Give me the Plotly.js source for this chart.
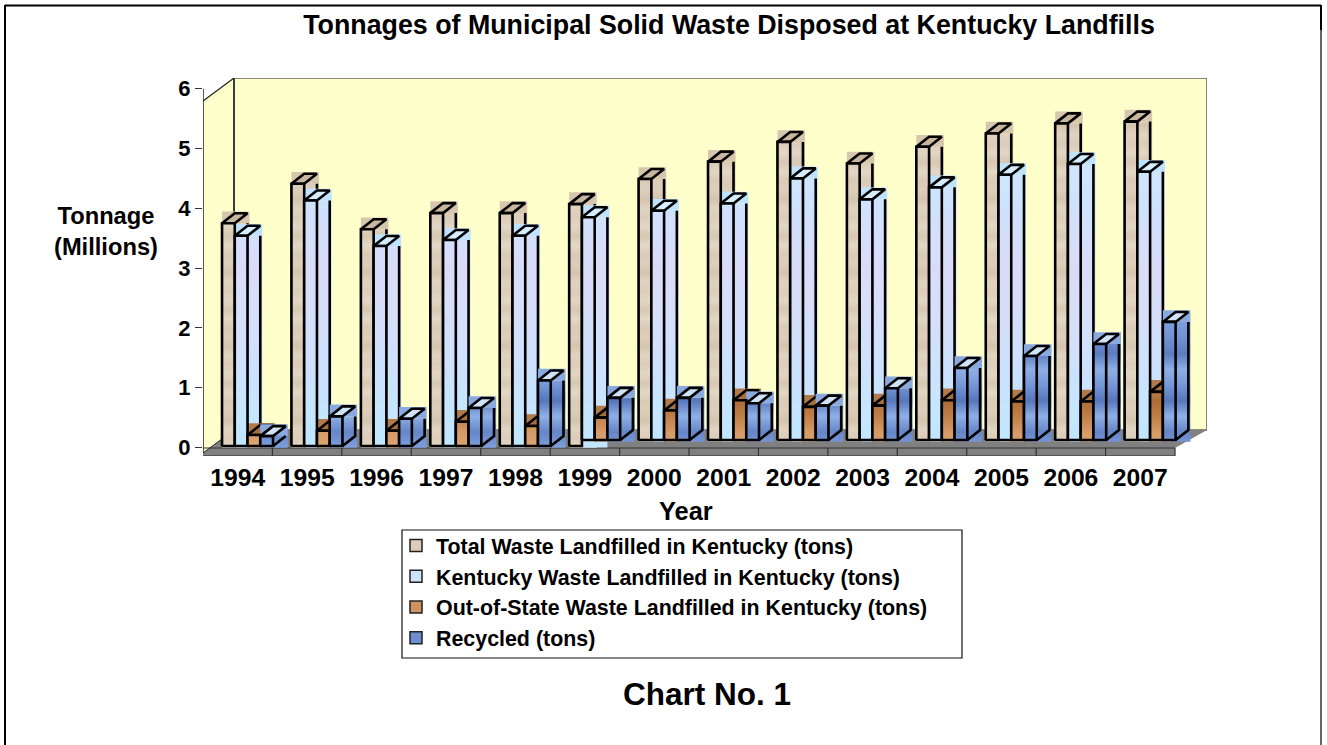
<!DOCTYPE html>
<html>
<head>
<meta charset="utf-8">
<title>Tonnages of Municipal Solid Waste Disposed at Kentucky Landfills</title>
<script src="https://cdn.plot.ly/plotly-3.0.1.min.js"></script>
<style>html,body{margin:0;padding:0;background:#fff}#chart{width:1327px;height:745px}</style>
</head>
<body>
<div id="chart"></div>
<script>
// Annual tonnages, in millions of tons
const years = [1994,1995,1996,1997,1998,1999,2000,2001,2002,2003,2004,2005,2006,2007];
const totalWaste = [3.75,4.41,3.65,3.92,3.92,4.07,4.49,4.78,5.11,4.75,5.03,5.25,5.42,5.45];
const kentuckyWaste = [3.54,4.13,3.37,3.47,3.54,3.85,3.96,4.08,4.50,4.15,4.35,4.56,4.74,4.61];
const outOfStateWaste = [0.21,0.28,0.28,0.43,0.36,0.50,0.62,0.79,0.68,0.70,0.79,0.77,0.77,0.93];
const recycled = [0.19,0.52,0.48,0.66,1.12,0.83,0.83,0.74,0.70,0.99,1.33,1.53,1.73,2.10];
const yTicks = [0,1,2,3,4,5,6];
const seriesNames = [
  'Total Waste Landfilled in Kentucky (tons)',
  'Kentucky Waste Landfilled in Kentucky (tons)',
  'Out-of-State Waste Landfilled in Kentucky (tons)',
  'Recycled (tons)'
];

// Plot-area geometry of the fake 3D box
const W = 1327, H = 745;
const L = 203, R = 1207, T = 78, B = 456;
const X_UNIT = 69.43, Y_UNIT = 59.8, Y_ZERO = 447.5;
const xRange = [0, (R - L) / X_UNIT];
const yRange = [(Y_ZERO - B) / Y_UNIT, (Y_ZERO - T) / Y_UNIT];
const xp = px => (px - L) / X_UNIT;
const yp = py => (Y_ZERO - py) / Y_UNIT;
const paperX = px => (px - L) / (R - L);
const paperY = py => 1 - (py - T) / (B - T);

// Column layout within one year's slot
const GROUP_OFFSET = 0.274, BAR_W = 0.1836;
const DEPTH_X = 0.1836, DEPTH_Y = 0.167;
const EDGE_X = 0.03, EDGE_Y = 0.03;
const LOW_BASE = 0.025, HIGH_BASE = 0.125;

// Repeating tone bands that give each column its mottled look
const bands = {
  total: ['#e2d6c4','#dbcdb9','#e0d3c0','#d4c5af','#ddcfbb','#d9cbb6','#e3d8c6','#d6c8b2'],
  ky: ['#c0e6ff','#c6e6ff','#cbe2ff','#d2e0fc','#d8def9','#d9dcf9','#d4dffb','#cde3ff','#d0e6ff','#d8edff','#d6ecff'],
  oos: ['#dca674','#d59a66','#c07f48','#ad6c38','#c88c56','#daa270','#e0ab7a','#d59a66'],
  rec: ['#7e9fdc','#6585c8','#8fb0e6','#5777bc','#7597d8','#8fafe4','#5c7dc0','#7092d2']
};
const gradientRepeats = { total: 5, ky: 1, oos: 3, rec: 3 };
const stripColor = { total: '#d7c6ae', ky: '#bfe3ff', oos: '#b07a4a', rec: '#8aa9df' };
const topColor = { total: '#c8b79e', ky: '#d4eeff', oos: '#a86f3e', rec: '#cfe3f8' };
const flatColor = { total: '#dccdb8', ky: '#cfe2fd', oos: '#cf9462', rec: '#6d8fd2' };
const keys = ['total', 'ky', 'oos', 'rec'];
const values = [totalWaste, kentuckyWaste, outOfStateWaste, recycled];
const raisedSince = [2000, 1999, 1999, 1999];

function gradientOf(key) {
  const list = [];
  for (let r = 0; r < gradientRepeats[key]; r++) list.push(...bands[key]);
  return {
    type: 'vertical', start: 0, stop: 6,
    colorscale: list.map((c, i) => [i / (list.length - 1), c])
  };
}
function pushPath(xs, ys, pts) {
  if (xs.length) { xs.push(null); ys.push(null); }
  pts.forEach(p => { xs.push(p[0]); ys.push(p[1]); });
}
const BLACK = '#000';
const decor = { hoverinfo: 'skip', showlegend: false };

const backTraces = [], frontBars = [], frontTextures = [];

keys.forEach((key, j) => {
  const base = years.map(y => (y >= raisedSince[j] ? HIGH_BASE : LOW_BASE));
  const tops = values[j];
  const left = years.map((_, k) => k + GROUP_OFFSET + j * BAR_W);

  const box = { x: [], y: [] }, strip = { x: [], y: [] }, lid = { x: [], y: [] };
  const edge = { x: [], y: [] }, front = { x: [], y: [] };

  left.forEach((x0, k) => {
    const x1 = x0 + BAR_W, t = tops[k], b = base[k];
    // Square block behind the column that carries its depth faces
    pushPath(box.x, box.y, [[x0, b - EDGE_Y], [x1 + DEPTH_X + EDGE_X, b - EDGE_Y], [x1 + DEPTH_X + EDGE_X, t], [x0, t], [x0, b - EDGE_Y]]);
    pushPath(strip.x, strip.y, [[x0, t], [x1 + DEPTH_X + EDGE_X, t], [x1 + DEPTH_X + EDGE_X, t + DEPTH_Y + EDGE_Y], [x0, t + DEPTH_Y + EDGE_Y], [x0, t]]);
    pushPath(lid.x, lid.y, [[x0, t], [x1, t], [x1 + DEPTH_X, t + DEPTH_Y], [x0 + DEPTH_X, t + DEPTH_Y], [x0, t]]);
    pushPath(edge.x, edge.y, [[x1 + DEPTH_X, Math.max(t, b + DEPTH_Y)], [x1 + DEPTH_X, b + DEPTH_Y], [x1, b]]);
    pushPath(front.x, front.y, [[x0, b], [x1, b], [x1, t], [x0, t], [x0, b]]);
  });

  // The 1999 column bottoms sit above the floor, leaving a pale patch below them
  if (key === 'ky') {
    const k = years.indexOf(1999);
    pushPath(box.x, box.y, [[left[k], 0], [left[k] + 2 * BAR_W, 0], [left[k] + 2 * BAR_W, HIGH_BASE], [left[k], HIGH_BASE], [left[k], 0]]);
  }

  backTraces.push(
    Object.assign({ type: 'scatter', mode: 'lines', x: box.x, y: box.y, fill: 'toself', line: { width: 0 }, fillcolor: flatColor[key], fillgradient: gradientOf(key) }, decor),
    Object.assign({ type: 'scatter', mode: 'lines', x: strip.x, y: strip.y, fill: 'toself', line: { width: 0 }, fillcolor: stripColor[key] }, decor),
    Object.assign({ type: 'scatter', mode: 'lines', x: lid.x, y: lid.y, fill: 'toself', line: { width: 2.6, color: BLACK }, fillcolor: topColor[key] }, decor),
    Object.assign({ type: 'scatter', mode: 'lines', x: edge.x, y: edge.y, line: { width: 2.6, color: BLACK } }, decor)
  );

  frontBars.push({
    type: 'bar', name: seriesNames[j], legendgroup: key,
    x: left.map(v => v + BAR_W / 2), width: BAR_W,
    y: tops.map((t, k) => t - base[k]), base: base,
    customdata: years,
    hovertemplate: '%{customdata}: %{y:.2f} M<extra>' + seriesNames[j] + '</extra>',
    yaxis: 'y2',
    marker: { color: flatColor[key], line: { color: '#222', width: 1.5 } }
  });
  frontTextures.push(Object.assign({
    type: 'scatter', mode: 'lines', x: front.x, y: front.y, yaxis: 'y2',
    fill: 'toself', line: { width: 2.6, color: BLACK },
    fillcolor: flatColor[key], fillgradient: gradientOf(key)
  }, decor));
});

// Box walls and floor
const WALL = '#FFFFCC', FLOOR = '#808080';
const bx = xp(234), fx = xp(1175), ex = xp(R);
const shapes = [
  { type: 'path', layer: 'below', xref: 'x', yref: 'y', fillcolor: WALL, line: { width: 0 },
    path: `M 0 ${yp(453)} L 0 ${yp(101)} L ${bx} ${yp(T)} L ${bx} ${yp(430)} Z` },
  { type: 'rect', layer: 'below', xref: 'x', yref: 'y', x0: bx, x1: ex, y0: yp(430), y1: yp(T), fillcolor: WALL, line: { color: '#666', width: 1.5 } },
  { type: 'line', layer: 'below', xref: 'x', yref: 'y', x0: bx, x1: bx, y0: yp(430), y1: yp(T), line: { color: '#222', width: 1.5 } },
  { type: 'line', layer: 'below', xref: 'x', yref: 'y', x0: 0, x1: bx, y0: yp(101), y1: yp(T), line: { color: '#222', width: 1.2 } },
  { type: 'line', layer: 'below', xref: 'x', yref: 'y', x0: 0, x1: 0, y0: yp(453), y1: 6, line: { color: '#222', width: 1.5 } },
  { type: 'path', layer: 'below', xref: 'x', yref: 'y', fillcolor: FLOOR, line: { width: 0 },
    path: `M 0 ${yp(456)} L 0 ${yp(453)} L ${bx} ${yp(430)} L ${ex} ${yp(430)} L ${fx} ${yp(448)} L ${fx} ${yp(455.5)} Z` },
  { type: 'line', layer: 'below', xref: 'x', yref: 'y', x0: 0, x1: fx, y0: yp(448), y1: yp(448), line: { color: '#333', width: 1.2 } },
  { type: 'line', layer: 'below', xref: 'x', yref: 'y', x0: 0, x1: bx, y0: yp(453), y1: yp(430), line: { color: '#222', width: 1 } },
  { type: 'line', layer: 'below', xref: 'x', yref: 'y', x0: 0, x1: fx, y0: yp(455.5), y1: yp(455.5), line: { color: '#555', width: 1 } }
];
// Dividers between years on the floor's front edge
for (let k = 1; k <= years.length; k++) {
  shapes.push({ type: 'line', layer: 'below', xref: 'x', yref: 'y', x0: k, x1: k, y0: yp(448), y1: yp(456), line: { color: '#333', width: 1.2 } });
}
// Legend frame and page border
shapes.push(
  { type: 'rect', xref: 'paper', yref: 'paper', layer: 'below', x0: paperX(402), x1: paperX(962), y0: paperY(658), y1: paperY(530), fillcolor: '#fff', line: { color: '#111', width: 1.2 } },
  { type: 'line', xref: 'paper', yref: 'paper', x0: paperX(5), x1: paperX(1321), y0: paperY(5.5), y1: paperY(5.5), line: { color: '#000', width: 2.2 } },
  { type: 'line', xref: 'paper', yref: 'paper', x0: paperX(5), x1: paperX(5), y0: paperY(5), y1: paperY(H), line: { color: '#000', width: 2 } },
  { type: 'line', xref: 'paper', yref: 'paper', x0: paperX(1321), x1: paperX(1321), y0: paperY(5), y1: paperY(H), line: { color: '#000', width: 1.2 } },
  { type: 'line', xref: 'paper', yref: 'paper', x0: paperX(1321), x1: paperX(1321), y0: paperY(5), y1: paperY(30), line: { color: '#000', width: 2 } }
);

const FONT = 'Liberation Sans, Arial, sans-serif';
const bold = size => ({ family: FONT, size: size, color: '#000', weight: 700 });

const layout = {
  width: W, height: H,
  paper_bgcolor: '#fff', plot_bgcolor: 'rgba(0,0,0,0)',
  margin: { l: L, r: W - R, t: T, b: H - B, pad: 0, autoexpand: false },
  barmode: 'overlay', showlegend: true, hovermode: 'closest',
  title: { text: 'Tonnages of Municipal Solid Waste Disposed at Kentucky Landfills', font: bold(26.8), x: 729 / W, xref: 'container', xanchor: 'center', y: 1 - 25 / H, yref: 'container', yanchor: 'middle' },
  xaxis: {
    range: xRange, fixedrange: true, showgrid: false, zeroline: false, showline: false,
    tickmode: 'array', tickvals: years.map((_, k) => k + 0.5), ticktext: years.map(String),
    ticks: '', tickfont: bold(24.7), ticklabelstandoff: 4, automargin: false
  },
  yaxis: {
    range: yRange, fixedrange: true, showgrid: false, zeroline: false, showline: false,
    tickmode: 'array', tickvals: yTicks, ticks: 'outside', ticklen: 7, tickwidth: 1.2, tickcolor: '#333',
    tickfont: bold(22), automargin: false
  },
  yaxis2: { range: yRange, overlaying: 'y', visible: false, fixedrange: true },
  legend: {
    x: paperX(396), y: paperY(525), xanchor: 'left', yanchor: 'top',
    font: bold(21.4), bgcolor: 'rgba(0,0,0,0)', borderwidth: 0,
    traceorder: 'grouped', tracegroupgap: 0, itemclick: false, itemdoubleclick: false
  },
  shapes: shapes,
  annotations: [
    { text: 'Tonnage<br>(Millions)', xref: 'paper', yref: 'paper', x: paperX(106), y: paperY(231), xanchor: 'center', yanchor: 'middle', showarrow: false, font: bold(23.7), align: 'center' },
    { text: 'Year', xref: 'paper', yref: 'paper', x: paperX(686), y: paperY(511), xanchor: 'center', yanchor: 'middle', showarrow: false, font: bold(25.4) },
    { text: 'Chart No. 1', xref: 'paper', yref: 'paper', x: paperX(707), y: paperY(694), xanchor: 'center', yanchor: 'middle', showarrow: false, font: bold(31.5) }
  ]
};

Plotly.newPlot('chart', backTraces.concat(frontBars, frontTextures), layout, { displayModeBar: false, staticPlot: false });
</script>
</body>
</html>
